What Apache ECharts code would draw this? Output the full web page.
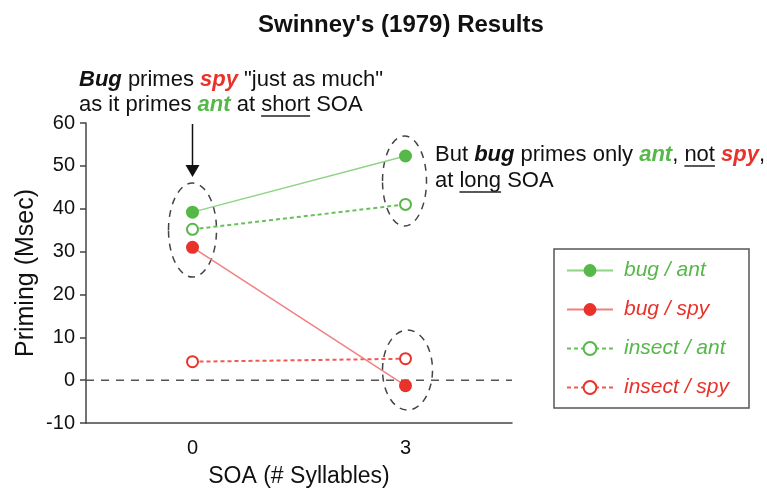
<!DOCTYPE html>
<html>
<head>
<meta charset="utf-8">
<script src="https://cdn.jsdelivr.net/npm/echarts@6/dist/echarts.min.js"></script>
<style>html,body{margin:0;padding:0;background:#fff}#c{width:767px;height:488px}</style>
</head>
<body>
<div id="c"></div>
<script>
// ---- data ----
const categories = ['0', '3'];
const seriesNames = ['bug / ant', 'bug / spy', 'insect / ant', 'insect / spy'];
const bugAnt = [39.2, 52.3];
const bugSpy = [31.0, -1.3];
const insectAnt = [35.2, 41.0];
const insectSpy = [4.3, 5.0];
const zeroLine = [[0, 0], [1, 0]];
const yTicks = { min: -10, max: 60, step: 10 };

const GREEN = '#55b848', GREEN_L = '#8fd485', GREEN_D = '#66c157';
const RED = '#e8322a', RED_L = '#f28080', RED_D = '#f05a52';
const FONT = 'Liberation Sans, Arial, sans-serif';

const chart = echarts.init(document.getElementById('c'), null, { renderer: 'canvas' });

const option = {
  animation: false,
  backgroundColor: '#fff',
  title: {
    text: "Swinney's (1979) Results",
    left: 258, top: 13, padding: 0,
    textStyle: { fontFamily: FONT, fontSize: 24, fontWeight: 'bold', color: '#111' }
  },
  grid: { left: 86, right: 255, top: 123, bottom: 65, containLabel: false, outerBoundsMode: 'none' },
  legend: {
    orient: 'vertical', left: 566, top: 260, padding: 0,
    itemWidth: 46, itemHeight: 16, itemGap: 18,
    data: [
      { name: seriesNames[0], textStyle: { color: GREEN } },
      { name: seriesNames[1], textStyle: { color: RED } },
      { name: seriesNames[2], textStyle: { color: GREEN } },
      { name: seriesNames[3], textStyle: { color: RED } }
    ],
    textStyle: { fontFamily: FONT, fontSize: 21, fontStyle: 'italic', padding: [0, 0, 0, 6] }
  },
  xAxis: [
    {
      type: 'category', data: categories, boundaryGap: true,
      name: 'SOA (# Syllables)', nameLocation: 'middle', nameGap: 42,
      nameTextStyle: { fontFamily: FONT, fontSize: 23, color: '#111' },
      axisLine: { onZero: false, lineStyle: { color: '#444', width: 1.5 } },
      axisTick: { length: 7, lineStyle: { color: '#444', width: 1.5 } },
      axisLabel: { fontFamily: FONT, fontSize: 20, color: '#111', margin: 15 }
    },
    { type: 'value', min: 0, max: 1, show: false }
  ],
  yAxis: {
    type: 'value', min: yTicks.min, max: yTicks.max, interval: yTicks.step,
    name: 'Priming (Msec)', nameLocation: 'middle', nameGap: 47, nameMoveOverlap: false,
    nameTextStyle: { fontFamily: FONT, fontSize: 25, color: '#111' },
    axisLine: { show: true, onZero: false, lineStyle: { color: '#444', width: 1.5 } },
    axisTick: { show: true, length: 6, lineStyle: { color: '#444', width: 1.5 } },
    axisLabel: { fontFamily: FONT, fontSize: 20, color: '#111', margin: 11 },
    splitLine: { show: false }
  },
  series: [
    {
      name: 'zero', type: 'line', data: zeroLine, xAxisIndex: 1,
      symbol: 'none', silent: true, z: 1,
      lineStyle: { color: '#555', width: 1.5, type: [8, 7] }
    },
    {
      name: seriesNames[3], type: 'line', data: insectSpy,
      symbol: 'emptyCircle', symbolSize: 11,
      itemStyle: { color: RED, borderWidth: 2 },
      lineStyle: { color: RED_D, width: 2, type: [4, 3] }
    },
    {
      name: seriesNames[2], type: 'line', data: insectAnt,
      symbol: 'emptyCircle', symbolSize: 11,
      itemStyle: { color: GREEN, borderWidth: 2 },
      lineStyle: { color: GREEN_D, width: 2, type: [4, 3] }
    },
    {
      name: seriesNames[1], type: 'line', data: bugSpy,
      symbol: 'circle', symbolSize: 13,
      itemStyle: { color: RED },
      lineStyle: { color: RED_L, width: 1.5 }
    },
    {
      name: seriesNames[0], type: 'line', data: bugAnt,
      symbol: 'circle', symbolSize: 13,
      itemStyle: { color: GREEN },
      lineStyle: { color: GREEN_L, width: 1.5 }
    }
  ]
};
chart.setOption(option);

// ---- annotations ----
const ANN = 22;
const mctx = document.createElement('canvas').getContext('2d');
function w(txt, style) {
  mctx.font = (style || '') + ' ' + ANN + 'px ' + FONT;
  return mctx.measureText(txt).width;
}
const p0 = chart.convertToPixel({ xAxisIndex: 0, yAxisIndex: 0 }, [0, 0]);
const p3 = chart.convertToPixel({ xAxisIndex: 0, yAxisIndex: 0 }, [1, 0]);
const x0 = p0[0], x3 = p3[0];

const a1x = 79, a1y1 = 81, a1y2 = 106;
const a2x = 435, a2y1 = 156, a2y2 = 182;
const baseStyle = { fontFamily: FONT, fontSize: ANN, fill: '#111', verticalAlign: 'top' };
const bi = c => ({ fontFamily: FONT, fontSize: ANN, fontWeight: 'bold', fontStyle: 'italic', fill: c });

// underline positions
const ul1x = a1x + w('as it primes ') + w('ant', 'italic bold') + w(' at ');
const ul1w = w('short');
const ul2x = a2x + w('But ') + w('bug', 'italic bold') + w(' primes only ') + w('ant', 'italic bold') + w(', ');
const ul2w = w('not');
const ul3x = a2x + w('at ');
const ul3w = w('long');

const dash = { stroke: '#444', lineWidth: 1.5, lineDash: [7, 6], fill: null };

chart.setOption({
  graphic: [
    { type: 'text', left: a1x, top: a1y1 - 12, style: Object.assign({}, baseStyle, {
        text: '{bb|Bug} primes {r|spy} "just as much"', rich: { bb: bi('#111'), r: bi(RED) } }) },
    { type: 'text', left: a1x, top: a1y2 - 12, style: Object.assign({}, baseStyle, {
        text: 'as it primes {g|ant} at short SOA', rich: { g: bi(GREEN) } }) },
    { type: 'line', shape: { x1: ul1x, y1: a1y2 + 10, x2: ul1x + ul1w, y2: a1y2 + 10 }, style: { stroke: '#222', lineWidth: 1.5 } },
    { type: 'text', left: a2x, top: a2y1 - 12, style: Object.assign({}, baseStyle, {
        text: 'But {bb|bug} primes only {g|ant}, not {r|spy},', rich: { bb: bi('#111'), g: bi(GREEN), r: bi(RED) } }) },
    { type: 'text', left: a2x, top: a2y2 - 12, style: Object.assign({}, baseStyle, {
        text: 'at long SOA' }) },
    { type: 'line', shape: { x1: ul2x, y1: a2y1 + 10, x2: ul2x + ul2w, y2: a2y1 + 10 }, style: { stroke: '#222', lineWidth: 1.5 } },
    { type: 'line', shape: { x1: ul3x, y1: a2y2 + 10, x2: ul3x + ul3w, y2: a2y2 + 10 }, style: { stroke: '#222', lineWidth: 1.5 } },
    // arrow
    { type: 'line', shape: { x1: x0, y1: 124, x2: x0, y2: 167 }, style: { stroke: '#111', lineWidth: 1.5 } },
    { type: 'polygon', shape: { points: [[x0 - 7, 165], [x0 + 7, 165], [x0, 177]] }, style: { fill: '#111' } },
    // ellipses
    { type: 'ellipse', z: 1, shape: { cx: x0, cy: 230, rx: 24, ry: 47 }, style: dash },
    { type: 'ellipse', z: 1, shape: { cx: x3 - 1, cy: 181, rx: 22, ry: 45 }, style: dash },
    { type: 'ellipse', z: 1, shape: { cx: x3 + 2, cy: 370, rx: 25, ry: 40 }, style: dash },
    // legend box
    { type: 'rect', z: 0, shape: { x: 554, y: 249, width: 195, height: 159 }, style: { stroke: '#555', lineWidth: 1.5, fill: '#fff' } }
  ]
});
</script>
</body>
</html>
